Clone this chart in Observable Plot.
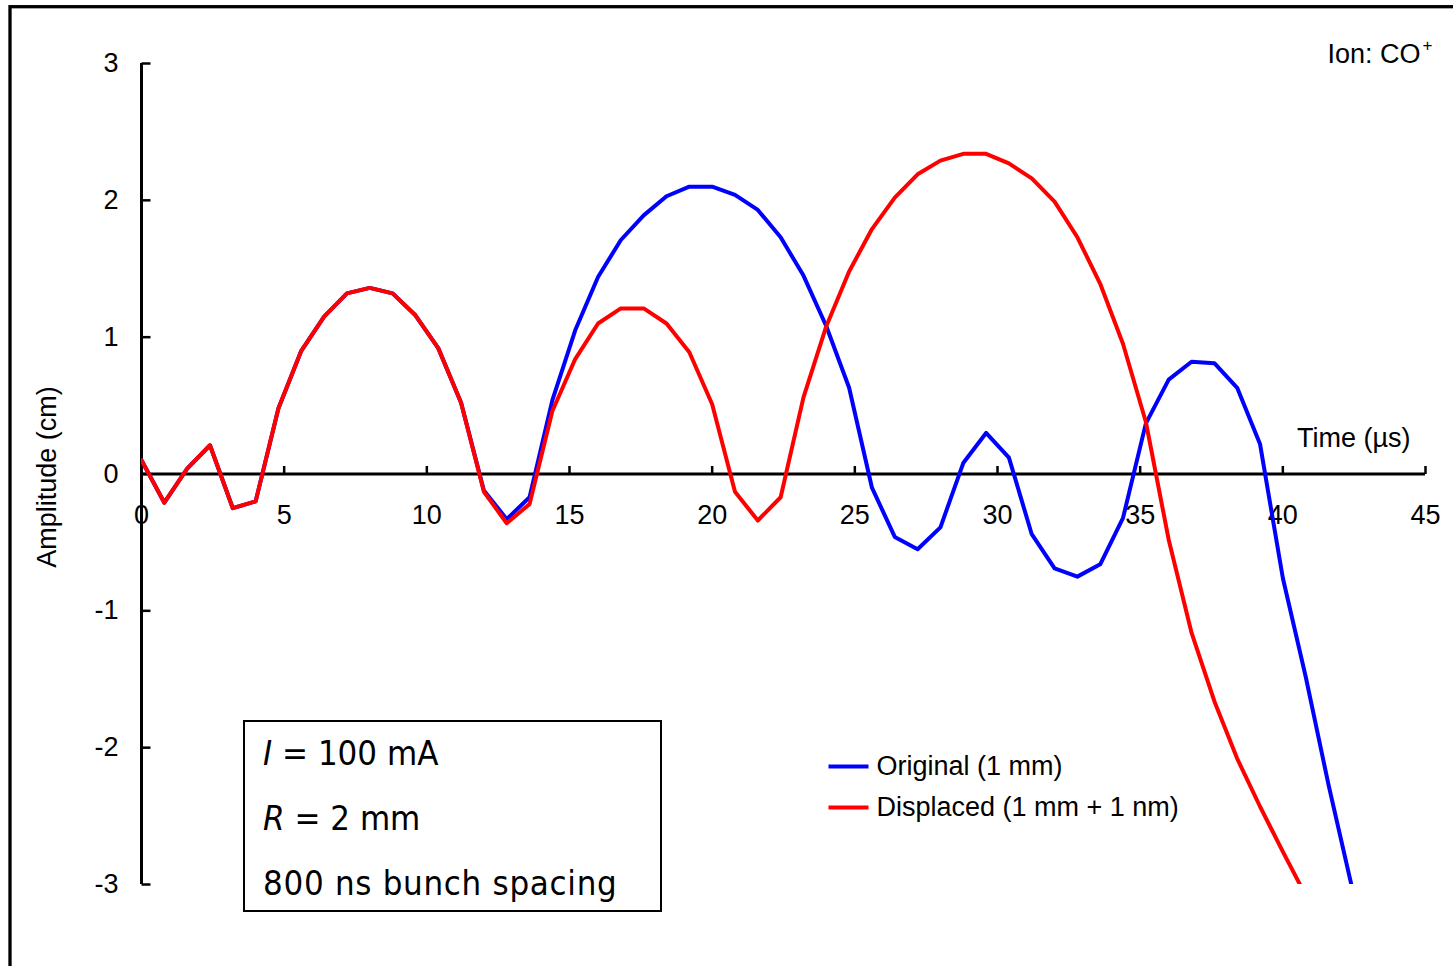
<!DOCTYPE html>
<html><head><meta charset="utf-8">
<script src="https://cdn.jsdelivr.net/npm/d3@7"></script>
<script src="https://cdn.jsdelivr.net/npm/@observablehq/plot@0.6"></script>
<style>body{margin:0;background:#fff;} svg{display:block;}</style>
</head><body><div id="chart"></div>
<script>
// ---- data ----
const times = [0,0.8,1.6,2.4,3.2,4,4.8,5.6,6.4,7.2,8,8.8,9.6,10.4,11.2,12,12.8,13.6,14.4,15.2,16,16.8,17.6,18.4,19.2,20,20.8,21.6,22.4,23.2,24,24.8,25.6,26.4,27.2,28,28.8,29.6,30.4,31.2,32,32.8,33.6,34.4,35.2,36,36.8,37.6,38.4,39.2,40,40.8,41.6,42.4];
const original = [0.10,-0.21,0.04,0.21,-0.25,-0.20,0.48,0.90,1.15,1.32,1.36,1.32,1.16,0.92,0.52,
  -0.12,-0.33,-0.17,0.54,1.05,1.44,1.71,1.89,2.03,2.10,2.10,2.04,1.93,1.73,1.45,1.08,0.63,-0.10,-0.46,-0.55,-0.39,0.08,0.30,0.12,-0.44,-0.69,-0.75,-0.66,-0.32,0.37,0.69,0.82,0.81,0.63,0.22,-0.76,-1.48,-2.27,-3.00];
const displaced = [0.10,-0.21,0.04,0.21,-0.25,-0.20,0.48,0.90,1.15,1.32,1.36,1.32,1.16,0.92,0.52,
  -0.13,-0.36,-0.22,0.46,0.84,1.10,1.21,1.21,1.10,0.89,0.51,-0.13,-0.34,-0.17,0.56,1.08,1.48,1.79,2.02,2.19,2.29,2.34,2.34,2.27,2.16,1.99,1.73,1.39,0.95,0.38,-0.48,-1.16,-1.66,-2.08,-2.43,-2.76,-3.08];
const seriesNames = ["Original (1 mm)", "Displaced (1 mm + 1 nm)"];
const seriesColors = ["#0000ff", "#ff0000"];
const xTicks = [0,5,10,15,20,25,30,35,40,45];
const yTicks = [-3,-2,-1,0,1,2,3];
const yTickLabels = ["-3","-2","-1","0","1","2","3"];
const xLabel = "Time (µs)";
const yLabel = "Amplitude (cm)";
const ionLabel = "Ion: CO";
const ionCharge = "+";

// ---- table ----
const rows = [];
original.forEach((v, i) => rows.push({series: seriesNames[0], t: times[i], v}));
displaced.forEach((v, i) => rows.push({series: seriesNames[1], t: times[i], v}));

// custom tick / legend symbols
const tickUp = {draw(ctx){ ctx.moveTo(0,0); ctx.lineTo(0,-8); }};
const tickRight = {draw(ctx){ ctx.moveTo(0,0); ctx.lineTo(9,0); }};
const legendLine = {draw(ctx){ ctx.moveTo(-20,0); ctx.lineTo(20,0); }};

const FS = 27;
const svg = Plot.plot({
  width: 1453, height: 966,
  marginLeft: 141, marginRight: 28, marginTop: 63, marginBottom: 82,
  x: {domain: [0, 45], axis: null},
  y: {domain: [-3, 3], axis: null},
  color: {domain: seriesNames, range: seriesColors},
  style: {fontFamily: "'Liberation Sans', Arial, sans-serif", background: "white", overflow: "visible"},
  marks: [
    Plot.ruleY([0], {stroke: "black", strokeWidth: 3}),
    Plot.ruleX([0], {stroke: "black", strokeWidth: 3}),
    Plot.dot(xTicks, {x: d => d, y: () => 0, symbol: tickUp, fill: "none", stroke: "black", strokeWidth: 2.5}),
    Plot.dot(yTicks, {x: () => 0, y: d => d, symbol: tickRight, fill: "none", stroke: "black", strokeWidth: 2.5}),
    Plot.text(xTicks, {x: d => d, y: () => 0, dy: 41, text: d => String(d), fontSize: FS}),
    Plot.text(yTicks, {x: () => 0, y: d => d, dx: -23, textAnchor: "end", text: (d, i) => yTickLabels[i], fontSize: FS}),
    Plot.line(rows, {x: "t", y: "v", z: "series", stroke: "series", strokeWidth: 4, strokeLinejoin: "round", clip: true}),
    Plot.text([xLabel], {frameAnchor: "right", dx: -15, dy: -36, textAnchor: "end", lineAnchor: "middle", text: d => d, fontSize: FS}),
    Plot.text([yLabel], {frameAnchor: "left", dx: -94, dy: 3, rotate: -90, textAnchor: "middle", lineAnchor: "middle", text: d => d, fontSize: FS}),
    Plot.text([ionLabel], {frameAnchor: "top-right", dx: -5, dy: -9, textAnchor: "end", lineAnchor: "middle", text: d => d, fontSize: FS}),
    Plot.text([ionCharge], {frameAnchor: "top-right", dx: -3, dy: -18, textAnchor: "start", lineAnchor: "middle", text: d => d, fontSize: 17}),
    ...seriesNames.map((name, i) => Plot.dot([name], {frameAnchor: "top-left", dx: 707, dy: 703 + 41 * i, symbol: legendLine, fill: "none", stroke: seriesColors[i], strokeWidth: 4})),
    ...seriesNames.map((name, i) => Plot.text([name], {frameAnchor: "top-left", dx: 735, dy: 703 + 41 * i, textAnchor: "start", lineAnchor: "middle", text: d => d, fontSize: FS}))
  ]
});

// annotation box and outer border
const s = d3.select(svg);
const box = s.append("g");
box.append("rect").attr("x", 244).attr("y", 721).attr("width", 417).attr("height", 190)
  .attr("fill", "white").attr("stroke", "black").attr("stroke-width", 2);
const boxFont = "'DejaVu Sans Condensed', 'DejaVu Sans', sans-serif";
const boxLines = [[["I", true], [" = 100 mA", false]], [["R", true], [" = 2 mm", false]], [["800 ns bunch spacing", false]]];
boxLines.forEach((parts, i) => {
  const t = box.append("text").attr("x", 263).attr("y", 765 + 65 * i)
    .attr("text-anchor", "start")
    .attr("font-family", boxFont).attr("font-size", 34.5).attr("fill", "black");
  if (i === 2) t.attr("letter-spacing", 0.7);
  parts.forEach(([str, it]) => t.append("tspan").attr("font-style", it ? "italic" : "normal").text(str));
});
s.append("rect").attr("x", 10).attr("y", 6.7).attr("width", 1470).attr("height", 990)
  .attr("fill", "none").attr("stroke", "black").attr("stroke-width", 3.3);

document.getElementById("chart").appendChild(svg);
</script>
</body></html>
